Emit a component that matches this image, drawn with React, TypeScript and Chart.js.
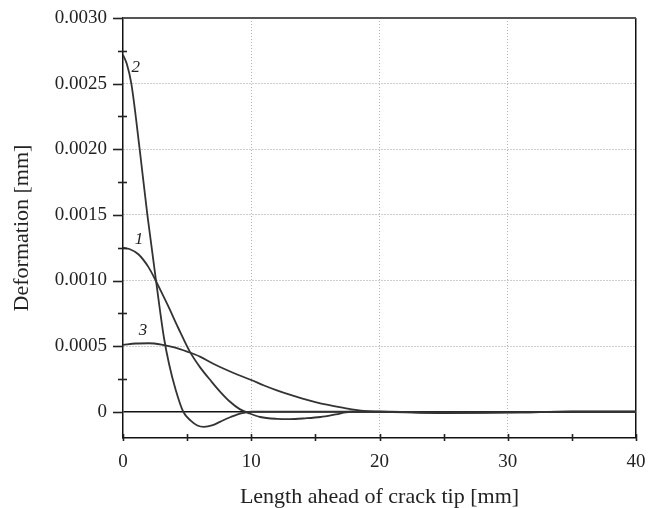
import { useEffect, useRef } from 'react';
import { Chart, registerables } from 'chart.js';

Chart.register(...registerables);

// Curve 1
const curve1X = [0, 0.5, 1.2, 2.0, 2.6, 3.5, 4.3, 5.2, 6.0, 6.9, 7.6, 8.3, 9.1, 9.8, 10.7, 12.0, 13.0, 14.2, 15.4, 16.6, 17.7, 20, 25, 30, 35, 40];
const curve1Y = [0.00125, 0.00124, 0.0012, 0.0011, 0.00099, 0.00081, 0.00064, 0.00046, 0.00034, 0.00023, 0.00015, 0.00008, 0.00002, -0.00001, -0.00004, -0.000054, -0.000056, -0.00005, -0.00004, -0.00002, 0, 0, -0.000005, -0.000005, 0, 0];
// Curve 2
const curve2X = [0, 0.3, 0.65, 1.3, 1.9, 2.6, 3.2, 3.6, 4.1, 4.7, 5.3, 5.8, 6.3, 7.0, 7.6, 8.4, 9.2, 10, 12, 15, 20, 25, 30, 35, 40];
const curve2Y = [0.00272, 0.00265, 0.0025, 0.002, 0.0015, 0.00098, 0.00056, 0.00036, 0.00017, 0, -0.00007, -0.000105, -0.000115, -0.000102, -0.000075, -0.00004, -0.000012, 0, 0, 0, 0, -0.000005, -0.000005, 0, 0];
// Curve 3
const curve3X = [0, 1, 2, 3, 4, 5, 6, 7, 8, 9, 10, 11, 12, 13, 14, 15, 16, 17, 18, 19, 20, 22, 25, 28, 30, 35, 40];
const curve3Y = [0.00051, 0.00052, 0.000522, 0.000512, 0.00049, 0.000458, 0.00042, 0.000368, 0.000322, 0.00028, 0.000242, 0.0002, 0.000163, 0.00013, 0.0001, 0.000074, 0.000052, 0.000033, 0.000016, 0.000004, 0, -0.000005, -0.00001, -0.000008, -0.000005, 0, 0];

const curveNames = ['1', '2', '3'];
const nameX = [1.25, 1.0, 1.55];
const nameY = [0.00131, 0.002625, 0.000616];

const xTickValues = [0, 5, 10, 15, 20, 25, 30, 35, 40];
const xLabelValues = [0, 10, 20, 30, 40];
const yTickValues = [0, 0.00025, 0.0005, 0.00075, 0.001, 0.00125, 0.0015, 0.00175, 0.002, 0.00225, 0.0025, 0.00275, 0.003];
const yTickLabels = ['0', '', '0.0005', '', '0.0010', '', '0.0015', '', '0.0020', '', '0.0025', '', '0.0030'];

const xTitle = 'Length ahead of crack tip [mm]';
const yTitle = 'Deformation [mm]';

const SERIF = "'Liberation Serif', 'Times New Roman', serif";
const LINE = '#333333';

const yIndex = (v: number) => Math.round(v / 0.00025);

const tickPlugin = {
  id: 'tickMarks',
  afterDatasetsDraw(chart: any) {
    const ctx = chart.ctx;
    const xs = chart.scales.x;
    const ys = chart.scales.y;
    const area = chart.chartArea;
    ctx.save();
    // curve numbers
    ctx.fillStyle = '#222';
    ctx.font = `italic 17px ${SERIF}`;
    ctx.textAlign = 'center';
    ctx.textBaseline = 'middle';
    curveNames.forEach((n, i) => {
      ctx.fillText(n, xs.getPixelForValue(nameX[i]), ys.getPixelForValue(nameY[i]));
    });
    // tick marks
    ctx.strokeStyle = '#222';
    ctx.lineWidth = 1.6;
    yTickValues.forEach((v) => {
      const y = Math.round(ys.getPixelForValue(v)) + 0.5;
      const k = yIndex(v);
      ctx.beginPath();
      if (k % 2 === 0) {
        ctx.moveTo(area.left - 10, y);
        ctx.lineTo(area.left, y);
      } else {
        ctx.moveTo(area.left - 5, y);
        ctx.lineTo(area.left + 4, y);
      }
      ctx.stroke();
    });
    xTickValues.forEach((v) => {
      const x = Math.round(xs.getPixelForValue(v)) + 0.5;
      ctx.beginPath();
      ctx.moveTo(x, area.bottom - 4);
      ctx.lineTo(x, area.bottom + 3);
      ctx.stroke();
    });
    ctx.restore();
  },
};

const clearPadding = (scale: any) => {
  scale.paddingTop = 0;
  scale.paddingBottom = 0;
  scale.paddingLeft = 0;
  scale.paddingRight = 0;
};

export default function App() {
  const ref = useRef<HTMLCanvasElement | null>(null);

  useEffect(() => {
    if (!ref.current) return;
    const mk = (xsArr: number[], ysArr: number[]) => xsArr.map((x, i) => ({ x, y: ysArr[i] }));
    const ds = (label: string, data: any) => ({
      label,
      data,
      borderColor: LINE,
      borderWidth: 1.8,
      pointRadius: 0,
      fill: false,
      cubicInterpolationMode: 'monotone' as const,
    });
    const chart = new Chart(ref.current, {
      type: 'line',
      data: {
        datasets: [
          ds('1', mk(curve1X, curve1Y)),
          ds('2', mk(curve2X, curve2Y)),
          ds('3', mk(curve3X, curve3Y)),
        ],
      },
      options: {
        animation: false,
        responsive: false,
        devicePixelRatio: 1,
        layout: { padding: { top: 18, right: 12, bottom: 0, left: 0 } },
        plugins: { legend: { display: false }, tooltip: { enabled: false } },
        scales: {
          x: {
            type: 'linear',
            min: 0,
            max: 40,
            afterBuildTicks: (scale: any) => {
              scale.ticks = xTickValues.map((v) => ({ value: v }));
            },
            afterFit: (scale: any) => {
              scale.height = 70;
              clearPadding(scale);
            },
            ticks: {
              autoSkip: false,
              maxRotation: 0,
              padding: 13,
              color: '#222',
              font: { family: SERIF, size: 19 },
              callback: (v: any) => (xLabelValues.includes(Number(v)) ? String(v) : ''),
            },
            grid: {
              drawTicks: false,
              color: (c: any) => {
                const v = c.tick ? c.tick.value : -1;
                if (v === 40) return '#111';
                if (v === 10 || v === 20 || v === 30) return '#b5b5b5';
                return 'rgba(0,0,0,0)';
              },
              lineWidth: (c: any) => (c.tick && c.tick.value === 40 ? 1.5 : 1),
            },
            border: {
              display: true,
              color: '#111',
              width: 1.5,
              dash: (c: any) => {
                if (c.tick && (c.tick.value === 10 || c.tick.value === 20 || c.tick.value === 30)) return [1, 2];
                return [];
              },
            },
            title: {
              display: true,
              text: xTitle,
              color: '#222',
              font: { family: SERIF, size: 22, lineHeight: 1 },
              padding: { top: 0, bottom: 0 },
            },
          },
          y: {
            type: 'linear',
            min: -0.0002,
            max: 0.003,
            afterBuildTicks: (scale: any) => {
              scale.ticks = yTickValues.map((v) => ({ value: v }));
            },
            afterFit: (scale: any) => {
              scale.width = 123;
              clearPadding(scale);
            },
            ticks: {
              autoSkip: false,
              padding: 16,
              color: '#222',
              font: { family: SERIF, size: 19 },
              callback: (_v: any, i: number) => yTickLabels[i],
            },
            grid: {
              drawTicks: false,
              color: (c: any) => {
                if (!c.tick) return 'rgba(0,0,0,0)';
                const k = yIndex(c.tick.value);
                if (k === 0) return '#111';
                if (k === 12) return '#555';
                if (k % 2 === 0) return '#9a9a9a';
                return 'rgba(0,0,0,0)';
              },
              lineWidth: (c: any) => {
                if (!c.tick) return 1;
                const k = yIndex(c.tick.value);
                if (k === 0) return 1.5;
                if (k === 12) return 2;
                return 1;
              },
            },
            border: {
              display: true,
              color: '#111',
              width: 1.5,
              dash: (c: any) => {
                if (!c.tick) return [];
                const k = yIndex(c.tick.value);
                if (k > 0 && k < 12 && k % 2 === 0) return [1, 2];
                return [];
              },
            },
            title: {
              display: true,
              text: yTitle,
              color: '#222',
              font: { family: SERIF, size: 22, lineHeight: 1 },
              padding: { top: 11, bottom: 0 },
            },
          },
        },
      },
      plugins: [tickPlugin],
    });
    return () => chart.destroy();
  }, []);

  return (
    <div style={{ position: 'absolute', left: 0, top: 0, width: 648, height: 508 }}>
      <canvas ref={ref} width={648} height={508} />
    </div>
  );
}
